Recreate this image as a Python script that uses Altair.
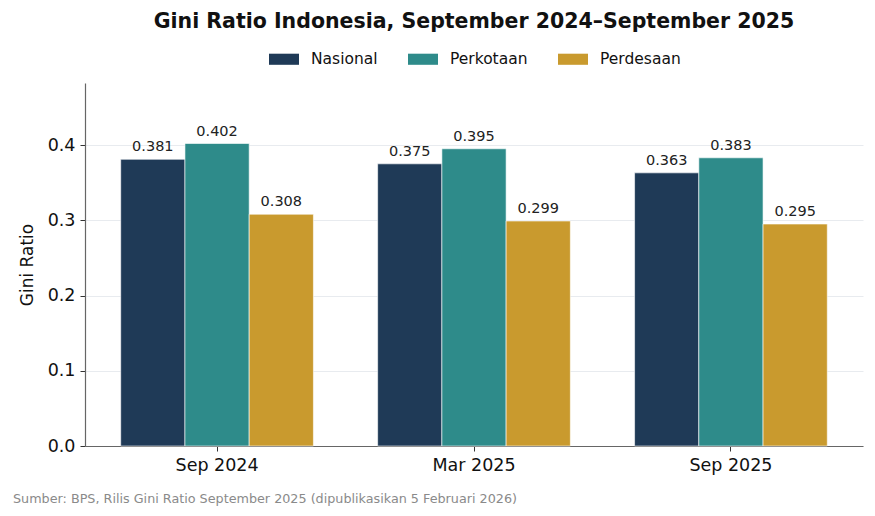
"""Grouped bar chart: Gini Ratio Indonesia, Sep 2024 - Sep 2025"""

import altair as alt
import pandas as pd


# Data
PERIODS = ["Sep 2024", "Mar 2025", "Sep 2025"]
CATEGORIES = ["Nasional", "Perkotaan", "Perdesaan"]
NASIONAL = [0.381, 0.375, 0.363]
PERKOTAAN = [0.402, 0.395, 0.383]
PERDESAAN = [0.308, 0.299, 0.295]
Y_TICKS = [0.0, 0.1, 0.2, 0.3, 0.4]

TITLE = "Gini Ratio Indonesia, September 2024\u2013September 2025"
SOURCE = "Sumber: BPS, Rilis Gini Ratio September 2025 (dipublikasikan 5 Februari 2026)"

# Styling
COLORS = ["#1f3a57", "#2e8b8a", "#c99a2e"]
FONT = "DejaVu Sans"
PLOT_W = 778
PLOT_H = 363

rows = []
for cat, values in zip(CATEGORIES, [NASIONAL, PERKOTAAN, PERDESAAN]):
    for period, v in zip(PERIODS, values):
        rows.append({"Periode": period, "Kategori": cat, "Gini": v})
df = pd.DataFrame(rows)

x_enc = alt.X(
    "Periode:N",
    sort=PERIODS,
    title=None,
    scale=alt.Scale(paddingInner=0.25, paddingOuter=0.139),
    axis=alt.Axis(
        labelAngle=0, labelFontSize=17.5, labelColor="#111", labelPadding=5,
        tickSize=5, tickColor="#333", domainColor="#666", domainWidth=1.2,
        grid=False,
    ),
)
offset_enc = alt.XOffset("Kategori:N", sort=CATEGORIES,
                         scale=alt.Scale(paddingInner=0, paddingOuter=0))
y_enc = alt.Y(
    "Gini:Q",
    title="Gini Ratio",
    scale=alt.Scale(domain=[0, 0.4824], nice=False, zero=True),
    axis=alt.Axis(
        values=Y_TICKS, format=".1f", labelFontSize=17.5, labelColor="#111",
        labelPadding=5, tickSize=5, tickColor="#333", domainColor="#666",
        domainWidth=1.2, gridColor="#e8ebef", gridWidth=1,
        titleFontSize=17, titleFontWeight="normal", titleColor="#111",
        titlePadding=11,
    ),
)

base = alt.Chart(df).encode(x=x_enc, xOffset=offset_enc, y=y_enc)

bars = base.mark_bar(stroke="white", strokeWidth=0.6).encode(
    color=alt.Color(
        "Kategori:N",
        sort=CATEGORIES,
        scale=alt.Scale(domain=CATEGORIES, range=COLORS),
        legend=alt.Legend(
            title=None, orient="none", direction="horizontal",
            legendX=184, legendY=-39,
            symbolType="M-1,-0.37H1V0.37H-1Z", symbolSize=900,
            symbolStrokeWidth=0, labelFontSize=15.5, labelColor="#111",
            labelOffset=12, columnPadding=30,
        ),
    )
)

labels = base.mark_text(
    baseline="bottom", dy=-5, fontSize=14.5, color="#222", font=FONT
).encode(text=alt.Text("Gini:Q", format=".3f"))

source = alt.Chart(pd.DataFrame({"t": [SOURCE]})).mark_text(
    align="left", baseline="alphabetic", fontSize=12.75, color="#8a8a8a", font=FONT
).encode(text="t:N", x=alt.value(-72), y=alt.value(420))

chart = (bars + labels + source).properties(
    width=PLOT_W,
    height=PLOT_H,
    autosize=alt.AutoSizeParams(type="none"),
    padding={"left": 77, "top": 75, "right": 4, "bottom": 62},
    title=alt.TitleParams(
        TITLE, fontSize=20.5, fontWeight="bold", color="#111", font=FONT,
        anchor="middle", offset=12,
    ),
).configure(
    font=FONT,
).configure_view(
    stroke=None,
)

chart.save("out.html", embed_options={"renderer": "svg", "actions": False})
